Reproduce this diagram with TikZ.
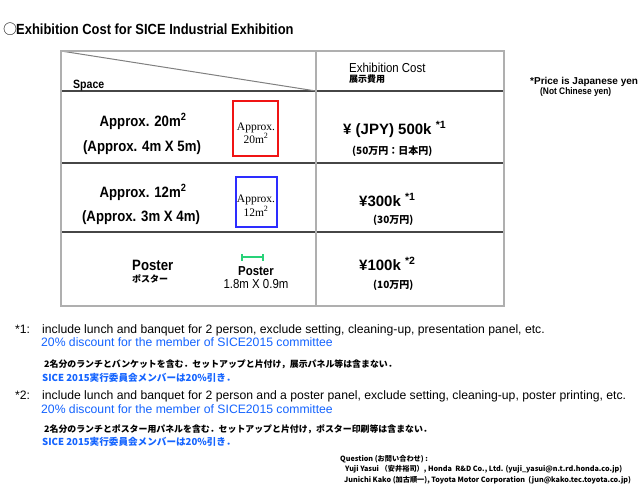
\documentclass[tikz,border=0pt]{standalone}
\usepackage{fontspec}
\setmainfont{Liberation Sans}[FakeStretch=0.88]
\newfontfamily\wide{Liberation Sans}
\newfontfamily\jp{Noto Sans CJK JP}
\newfontfamily\serif{Liberation Serif}
\definecolor{boxred}{RGB}{240,20,20}
\definecolor{boxblue}{RGB}{45,45,255}
\definecolor{bargreen}{RGB}{40,210,120}
\definecolor{txtblue}{RGB}{20,100,255}
\definecolor{lightline}{RGB}{175,175,175}
\definecolor{darkline}{RGB}{70,70,70}
\begin{document}
\begin{tikzpicture}[x=1pt,y=-1pt,
  lt/.style={inner sep=0pt,anchor=base west},
  ct/.style={inner sep=0pt,anchor=base},
  rowmain/.style={ct,font=\fontsize{15}{15}\selectfont\bfseries},
  serbox/.style={ct,font=\fontsize{11.5}{11.5}\serif},
  price/.style={lt,font=\fontsize{15}{15}\wide\bfseries},
  pricejp/.style={lt,font=\fontsize{10}{10}\jp\bfseries},
  jpsmall/.style={lt,font=\fontsize{8.9}{8.9}\jp\bfseries},
  sicejp/.style={lt,font=\fontsize{9.6}{9.6}\jp\bfseries,text=txtblue},
  note/.style={lt,font=\fontsize{12.2}{12.2}\wide},
  contact/.style={lt,font=\fontsize{7.2}{7.2}\jp\bfseries},
  frame/.style={draw=lightline,line width=1.3pt},
  hline/.style={draw=darkline,line width=1.3pt}]
\useasboundingbox[fill=white] (0,0) rectangle (640,493);
% title
\node[lt,font=\fontsize{14}{14}\jp] (circ) at (3,34) {○};
\node[lt,font=\fontsize{14.7}{14.7}\selectfont\bfseries] (title) at (16,34) {Exhibition Cost for SICE Industrial Exhibition};
% table
\coordinate (tl) at (61,51);
\coordinate (tr) at (504,51);
\coordinate (bl) at (61,306);
\coordinate (br) at (504,306);
\coordinate (mt) at (316,51);
\coordinate (mb) at (316,306);
\coordinate (h1l) at (61,91);  \coordinate (h1r) at (504,91);
\coordinate (h1m) at (316,91);
\coordinate (h2l) at (61,163); \coordinate (h2r) at (504,163);
\coordinate (h3l) at (61,232); \coordinate (h3r) at (504,232);
\draw[hline] (h1l) -- (h1r);
\draw[hline] (h2l) -- (h2r);
\draw[hline] (h3l) -- (h3r);
\draw[draw=gray,line width=1pt] (tl) -- (h1m);
\draw[frame] (tl) -- (tr) -- (br) -- (bl) -- cycle;
\draw[frame] (mt) -- (mb);
% header
\node[lt,font=\fontsize{12}{12}\selectfont\bfseries] (space) at (73,88) {Space};
\node[lt,font=\fontsize{13}{13}\selectfont] (ecost) at (349,72) {Exhibition Cost};
\node[lt,font=\fontsize{9}{9}\jp\bfseries] (ecostjp) at (349,82) {展示費用};
\node[lt,font=\fontsize{10}{10}\wide\bfseries] (yen1) at (530,84) {*Price is Japanese yen};
\node[lt,font=\fontsize{9.5}{9.5}\selectfont\bfseries] (yen2) at (540,94) {(Not Chinese yen)};
% row 1
\node[rowmain] (r1a) at (143,126) {Approx. 20m\textsuperscript{2}};
\node[rowmain] (r1b) at (142,151) {(Approx. 4m X 5m)};
\draw[boxred,line width=1.3pt] (233,101) rectangle (278,156);
\node[serbox] (r1s1) at (256,130) {Approx.};
\node[serbox] (r1s2) at (256,143) {20m\textsuperscript{2}};
\node[price] (p1) at (343,134) {¥ (JPY) 500k \textsuperscript{*1}};
\node[pricejp] (p1jp) at (352,154) {(50万円：日本円)};
% row 2
\node[rowmain] (r2a) at (143,197) {Approx. 12m\textsuperscript{2}};
\node[rowmain] (r2b) at (141,221) {(Approx. 3m X 4m)};
\draw[boxblue,line width=1.3pt] (236,177) rectangle (277,227);
\node[serbox] (r2s1) at (256,202) {Approx.};
\node[serbox] (r2s2) at (256,216) {12m\textsuperscript{2}};
\node[price] (p2) at (359,206) {¥300k \textsuperscript{*1}};
\node[pricejp] (p2jp) at (373,223) {(30万円)};
% row 3
\node[lt,font=\fontsize{15}{15}\selectfont\bfseries] (r3a) at (132,270) {Poster};
\node[jpsmall,font=\fontsize{9}{9}\jp\bfseries] (r3b) at (132,282) {ポスター};
\coordinate (gb1) at (242,257);
\coordinate (gb2) at (263,257);
\draw[bargreen,line width=1.2pt] (gb1) -- (gb2);
\draw[bargreen,line width=1.2pt] ([yshift=-3.5pt]gb1) -- ([yshift=3.5pt]gb1);
\draw[bargreen,line width=1.2pt] ([yshift=-3.5pt]gb2) -- ([yshift=3.5pt]gb2);
\node[ct,font=\fontsize{13}{13}\selectfont\bfseries] (r3c) at (256,275) {Poster};
\node[ct,font=\fontsize{13}{13}\selectfont] (r3d) at (256,288) {1.8m X 0.9m};
\node[price] (p3) at (359,270) {¥100k \textsuperscript{*2}};
\node[pricejp] (p3jp) at (373,288) {(10万円)};
% footnotes
\node[note] (n1m) at (15,333) {*1:};
\node[note] (n1) at (42,333) {include lunch and banquet for 2 person, exclude setting, cleaning-up, presentation panel, etc.};
\node[note,text=txtblue] (n1b) at (41,346) {20\% discount for the member of SICE2015 committee};
\node[jpsmall] (n1c) at (44,367) {2名分のランチとバンケットを含む．セットアップと片付け，展示パネル等は含まない．};
\node[sicejp] (n1d) at (42,381) {SICE 2015実行委員会メンバーは20\%引き．};
\node[note] (n2m) at (15,399) {*2:};
\node[note] (n2) at (42,399) {include lunch and banquet for 2 person and a poster panel, exclude setting, cleaning-up, poster printing, etc.};
\node[note,text=txtblue] (n2b) at (41,413) {20\% discount for the member of SICE2015 committee};
\node[jpsmall] (n2c) at (44,432) {2名分のランチとポスター用パネルを含む．セットアップと片付け，ポスター印刷等は含まない．};
\node[sicejp] (n2d) at (42,445) {SICE 2015実行委員会メンバーは20\%引き．};
% contact
\node[contact] (q0) at (340,461) {Question (お問い合わせ) :};
\node[contact] (q1) at (345,471) {Yuji Yasui （安井裕司）, Honda\ \ R\&D Co., Ltd. (yuji\_yasui@n.t.rd.honda.co.jp)};
\node[contact] (q2) at (344,482) {Junichi Kako (加古順一), Toyota Motor Corporation\ \ (jun@kako.tec.toyota.co.jp)};
\end{tikzpicture}
\end{document}
